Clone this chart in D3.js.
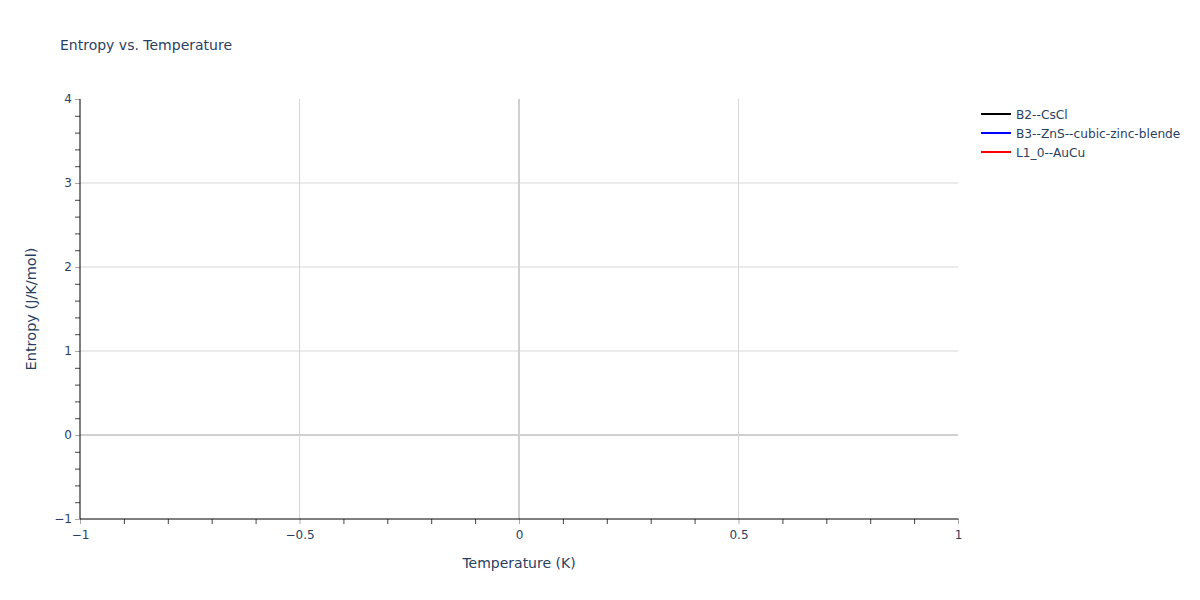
<!DOCTYPE html>
<html><head><meta charset="utf-8">
<script src="https://cdn.jsdelivr.net/npm/d3@7"></script>
<style>body{margin:0;background:#fff}text{font-family:"DejaVu Sans",sans-serif}</style>
</head><body>
<svg id="chart" width="1200" height="600"></svg>
<script>
const seriesNames = ["B2--CsCl", "B3--ZnS--cubic-zinc-blende", "L1_0--AuCu"];
const seriesColors = ["black", "blue", "red"];
const seriesValues = [[], [], []]; // no data points shown
const xDomain = [-1, 1];
const yDomain = [-1, 4];
const xTicks = [-1, -0.5, 0, 0.5, 1];
const yTicks = [-1, 0, 1, 2, 3, 4];
const xMinor = d3.range(-10, 11).map(i => i / 10);
const yMinor = d3.range(-5, 21).map(i => i / 5);

const FONT = "'DejaVu Sans',sans-serif";
const svg = d3.select("#chart");
const L = 80, R = 958, T = 99, B = 519;
const x = d3.scaleLinear().domain(xDomain).range([L, R]);
const y = d3.scaleLinear().domain(yDomain).range([B, T]);
const txt = "#2a3f5f";

// horizontal grid
svg.append("g").selectAll("line").data(yTicks.filter(v => v !== 0 && v !== -1 && v !== 4)).join("line")
  .attr("x1", L).attr("x2", R).attr("y1", d => y(d)).attr("y2", d => y(d))
  .attr("stroke", "#ebebeb").attr("stroke-width", 2);
// vertical grid
svg.append("g").selectAll("line").data(xTicks.filter(v => v !== 0 && v !== -1 && v !== 1)).join("line")
  .attr("y1", T).attr("y2", B).attr("x1", d => x(d)).attr("x2", d => x(d))
  .attr("stroke", "#d6d6d6").attr("stroke-width", 1);
// zero lines
svg.append("line").attr("x1", L).attr("x2", R).attr("y1", y(0)).attr("y2", y(0))
  .attr("stroke", "#d0d0d0").attr("stroke-width", 2);
svg.append("line").attr("y1", T).attr("y2", B).attr("x1", x(0)).attr("x2", x(0))
  .attr("stroke", "#d0d0d0").attr("stroke-width", 2);

// minor ticks
const xm = xMinor.filter(v => !xTicks.some(t => Math.abs(t - v) < 1e-9));
const ym = yMinor.filter(v => !yTicks.some(t => Math.abs(t - v) < 1e-9));
svg.append("g").attr("transform", `translate(0,${B})`)
  .call(d3.axisBottom(x).tickValues(xm).tickSize(5).tickFormat(""))
  .call(g => g.select(".domain").remove())
  .call(g => g.selectAll("line").attr("stroke", "#444"));
svg.append("g").attr("transform", `translate(${L},0)`)
  .call(d3.axisLeft(y).tickValues(ym).tickSize(5).tickFormat(""))
  .call(g => g.select(".domain").remove())
  .call(g => g.selectAll("line").attr("stroke", "#444"));

const fmt = d => (d < 0 ? "\u2212" : "") + Math.abs(d);
// major ticks
svg.append("g").attr("transform", `translate(0,${B})`)
  .call(d3.axisBottom(x).tickValues(xTicks).tickSize(5).tickPadding(6).tickFormat(fmt))
  .call(g => g.select(".domain").remove())
  .call(g => g.selectAll("line").attr("stroke", "#aaa"))
  .call(g => g.selectAll("text").attr("fill", txt).attr("font-size", 12).attr("font-family", FONT));
svg.append("g").attr("transform", `translate(${L},0)`)
  .call(d3.axisLeft(y).tickValues(yTicks).tickSize(5).tickPadding(3).tickFormat(fmt))
  .call(g => g.select(".domain").remove())
  .call(g => g.selectAll("line").attr("stroke", "#aaa"))
  .call(g => g.selectAll("text").attr("fill", txt).attr("font-size", 12).attr("font-family", FONT));

// axis lines
svg.append("line").attr("x1", L).attr("x2", R + 0.5).attr("y1", B).attr("y2", B).attr("stroke", "black").attr("stroke-width", 1);
svg.append("line").attr("x1", L).attr("x2", L).attr("y1", T).attr("y2", B).attr("stroke", "black").attr("stroke-width", 1);

// series (empty)
const line = d3.line().x(d => x(d[0])).y(d => y(d[1]));
seriesValues.forEach((vals, i) => {
  svg.append("path").datum(vals).attr("d", line).attr("fill", "none").attr("stroke", seriesColors[i]).attr("stroke-width", 2);
});

// titles
svg.append("text").attr("x", 60).attr("y", 50).attr("fill", txt).attr("font-size", 14).text("Entropy vs. Temperature");
svg.append("text").attr("x", (L + R) / 2).attr("y", 568).attr("text-anchor", "middle").attr("fill", txt).attr("font-size", 14).text("Temperature (K)");
svg.append("text").attr("transform", `translate(36,${(T + B) / 2}) rotate(-90)`).attr("text-anchor", "middle").attr("fill", txt).attr("font-size", 14.5).text("Entropy (J/K/mol)");

// legend
const lg = svg.append("g").attr("transform", "translate(981,114)");
seriesNames.forEach((n, i) => {
  const g = lg.append("g").attr("transform", `translate(0,${i * 19})`);
  g.append("line").attr("x1", 0).attr("x2", 30).attr("y1", 0).attr("y2", 0).attr("stroke", seriesColors[i]).attr("stroke-width", 2);
  g.append("text").attr("x", 35).attr("y", 4.5).attr("fill", txt).attr("font-size", 12.2).text(n);
});
</script>
</body></html>
